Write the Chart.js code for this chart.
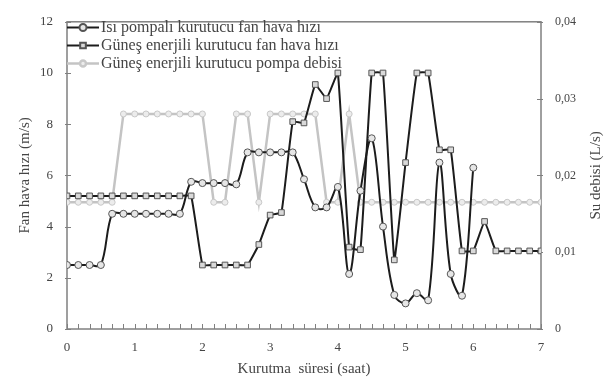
<!DOCTYPE html>
<html>
<head>
<meta charset="utf-8">
<script src="https://cdn.jsdelivr.net/npm/chart.js@4.4.1/dist/chart.umd.min.js"></script>
<style>
    html, body { margin: 0; padding: 0; background: #ffffff; }
</style>
</head>
<body>
<canvas id="chart" width="611" height="385"></canvas>
<script>
// kurutma suresi, 10 dakikalik adimlar (dakika)
const minutes = [0, 10, 20, 30, 40, 50, 60, 70, 80, 90, 100, 110, 120, 130, 140, 150, 160, 170, 180, 190, 200,
    210, 220, 230, 240, 250, 260, 270, 280, 290, 300, 310, 320, 330, 340, 350, 360, 370, 380, 390, 400, 410, 420];

// Isı pompalı kurutucu fan hava hızı (m/s), 0 - 6 saat
const isiPompaliFan = [2.5, 2.5, 2.5, 2.5, 4.5, 4.5, 4.5, 4.5, 4.5, 4.5, 4.5, 5.75, 5.7, 5.7, 5.7, 5.65,
    6.9, 6.9, 6.9, 6.9, 6.9, 5.85, 4.75, 4.75, 5.55, 2.15, 5.4, 7.45, 4.0, 1.33, 1.0, 1.4, 1.12, 6.5, 2.15, 1.3, 6.3];

// Güneş enerjili kurutucu fan hava hızı (m/s)
const gunesFan = [5.2, 5.2, 5.2, 5.2, 5.2, 5.2, 5.2, 5.2, 5.2, 5.2, 5.2, 5.2, 2.5, 2.5, 2.5, 2.5, 2.5,
    3.3, 4.45, 4.55, 8.1, 8.05, 9.55, 9.0, 10, 3.2, 3.1, 10, 10, 2.7, 6.5, 10, 10, 7.0, 7.0, 3.05, 3.05, 4.2,
    3.05, 3.05, 3.05, 3.05, 3.05];

// Güneş enerjili kurutucu pompa debisi (L/s)
const gunesPompa = [0.0165, 0.0165, 0.0165, 0.0165, 0.0165, 0.028, 0.028, 0.028, 0.028, 0.028, 0.028, 0.028, 0.028,
    0.0165, 0.0165, 0.028, 0.028, 0.0165, 0.028, 0.028, 0.028, 0.028, 0.028, 0.0165, 0.0165, 0.028,
    0.0165, 0.0165, 0.0165, 0.0165, 0.0165, 0.0165, 0.0165, 0.0165, 0.0165, 0.0165, 0.0165, 0.0165, 0.0165,
    0.0165, 0.0165, 0.0165, 0.0165];

const seriesNames = [
    "Isı pompalı kurutucu fan hava hızı",
    "Güneş enerjili kurutucu fan hava hızı",
    "Güneş enerjili kurutucu pompa debisi"
];

const xTitle = "Kurutma  süresi (saat)";
const yTitle = "Fan hava hızı (m/s)";
const y1Title = "Su debisi (L/s)";

const fontFamily = "'Liberation Serif', 'DejaVu Serif', serif";
const textColor = "#454545";

function toPoints(values) {
    return values.map((v, i) => ({ x: minutes[i] / 60, y: v }));
}

const framePlugin = {
    id: "frame",
    beforeDatasetsDraw(chart) {
        const { ctx, chartArea: a, scales } = chart;
        ctx.save();
        ctx.strokeStyle = "#808080";
        ctx.lineWidth = 1.5;
        ctx.strokeRect(a.left, a.top, a.right - a.left, a.bottom - a.top);

        ctx.lineWidth = 1;
        ctx.beginPath();
        minutes.forEach((m) => {
            const x = Math.round(scales.x.getPixelForValue(m / 60)) + 0.5;
            ctx.moveTo(x, a.bottom);
            ctx.lineTo(x, a.bottom - 5);
        });
        scales.y.ticks.forEach((t) => {
            const y = Math.round(scales.y.getPixelForValue(t.value)) + 0.5;
            ctx.moveTo(a.left - 2, y);
            ctx.lineTo(a.left + 4, y);
        });
        scales.y1.ticks.forEach((t) => {
            const y = Math.round(scales.y1.getPixelForValue(t.value)) + 0.5;
            ctx.moveTo(a.right + 2, y);
            ctx.lineTo(a.right - 4, y);
        });
        ctx.stroke();
        ctx.restore();
    },
    afterDraw(chart) {
        const { ctx, chartArea: a } = chart;
        ctx.save();
        ctx.fillStyle = textColor;
        ctx.font = `15px ${fontFamily}`;
        ctx.textAlign = "center";
        ctx.textBaseline = "middle";

        ctx.save();
        ctx.translate(25, (a.top + a.bottom) / 2);
        ctx.rotate(-Math.PI / 2);
        ctx.fillText(yTitle, 0, 0);
        ctx.restore();

        ctx.save();
        ctx.translate(596, (a.top + a.bottom) / 2);
        ctx.rotate(-Math.PI / 2);
        ctx.fillText(y1Title, 0, 0);
        ctx.restore();

        // legend inside the plot, top-left
        ctx.font = `16px ${fontFamily}`;
        const rows = [27.5, 45.5, 63.5];
        chart.data.datasets.forEach((ds, i) => {
            const y = rows[i];
            ctx.strokeStyle = ds.borderColor;
            ctx.lineWidth = ds.borderWidth;
            ctx.beginPath();
            ctx.moveTo(a.left, y);
            ctx.lineTo(a.left + 32, y);
            ctx.stroke();
            ctx.fillStyle = ds.pointBackgroundColor;
            ctx.strokeStyle = ds.pointBorderColor;
            Chart.helpers.drawPoint(ctx, {
                pointStyle: ds.pointStyle,
                radius: ds.pointRadius,
                borderWidth: ds.pointBorderWidth,
                rotation: 0
            }, a.left + 16, y);
            ctx.fillStyle = textColor;
            ctx.textAlign = "left";
            ctx.fillText(ds.label, a.left + 34, y);
        });
        ctx.restore();
    }
};

new Chart(document.getElementById("chart"), {
    type: "line",
    data: {
        datasets: [{
            label: seriesNames[0],
            data: toPoints(isiPompaliFan),
            yAxisID: "y",
            borderColor: "#1c1c1c",
            borderWidth: 2,
            tension: 0.35,
            pointStyle: "circle",
            pointRadius: 3.5,
            pointBorderWidth: 1,
            pointBackgroundColor: "#e6e6e6",
            pointBorderColor: "#555555"
        }, {
            label: seriesNames[1],
            data: toPoints(gunesFan),
            yAxisID: "y",
            borderColor: "#1c1c1c",
            borderWidth: 2,
            tension: 0.1,
            pointStyle: "rect",
            pointRadius: 4,
            pointBorderWidth: 1,
            pointBackgroundColor: "#d9d9d9",
            pointBorderColor: "#555555"
        }, {
            label: seriesNames[2],
            data: toPoints(gunesPompa),
            yAxisID: "y1",
            borderColor: "#c4c4c4",
            borderWidth: 2.5,
            tension: 0,
            pointStyle: "circle",
            pointRadius: 3,
            pointBorderWidth: 1,
            pointBackgroundColor: "#ececec",
            pointBorderColor: "#c8c8c8"
        }]
    },
    options: {
        responsive: false,
        animation: false,
        layout: { padding: { top: 12 } },
        plugins: {
            legend: { display: false },
            tooltip: { enabled: false }
        },
        scales: {
            x: {
                type: "linear",
                min: 0,
                max: 7,
                grid: { display: false, drawTicks: false },
                border: { display: false },
                ticks: {
                    stepSize: 1,
                    padding: 11,
                    color: textColor,
                    font: { family: fontFamily, size: 13 }
                },
                title: {
                    display: true,
                    text: xTitle,
                    color: textColor,
                    font: { family: fontFamily, size: 15 },
                    padding: { top: 0, bottom: 7 }
                },
                afterFit(scale) { scale.height = 56; }
            },
            y: {
                position: "left",
                min: 0,
                max: 12,
                grid: { display: false, drawTicks: false },
                border: { display: false },
                ticks: {
                    stepSize: 2,
                    padding: 14,
                    color: textColor,
                    font: { family: fontFamily, size: 13 }
                },
                afterFit(scale) { scale.width = 67; }
            },
            y1: {
                position: "right",
                min: 0,
                max: 0.04,
                grid: { display: false, drawTicks: false },
                border: { display: false },
                ticks: {
                    stepSize: 0.01,
                    padding: 14,
                    color: textColor,
                    font: { family: fontFamily, size: 12 },
                    callback: (v) => (v === 0 ? "0" : Number(v).toFixed(2).replace(".", ","))
                },
                afterFit(scale) { scale.width = 70; }
            }
        }
    },
    plugins: [framePlugin]
});
</script>
</body>
</html>
